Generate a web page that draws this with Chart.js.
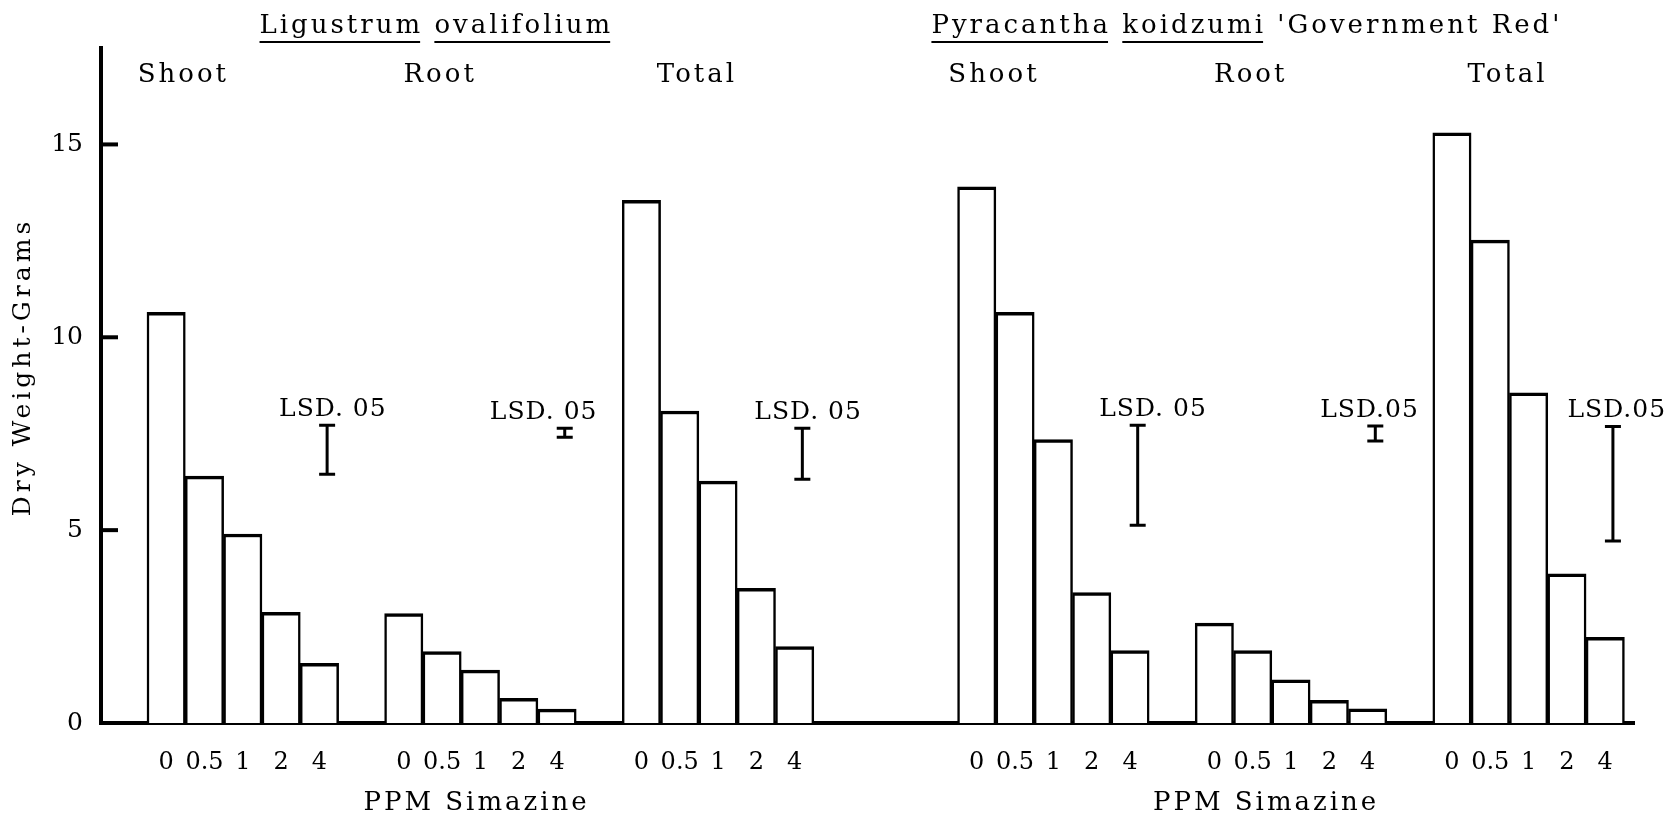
<!DOCTYPE html>
<html>
<head>
<meta charset="utf-8">
<script src="https://cdn.jsdelivr.net/npm/chart.js@4.4.1/dist/chart.umd.min.js"></script>
<style>
  html, body { margin: 0; padding: 0; background: #fff; }
  #wrap { width: 1675px; height: 816px; }
</style>
</head>
<body>
<div id="wrap"><canvas id="plot"></canvas></div>
<script>
const doses = ["0", "0.5", "1", "2", "4"];
const parts = ["Shoot", "Root", "Total"];
const species = [["Ligustrum", "ovalifolium"], ["Pyracantha", "koidzumi", "'Government Red'"]];

// dry weight (grams) per dose
const ligustrumShoot = [10.65, 6.4, 4.9, 2.87, 1.55];
const ligustrumRoot = [2.84, 1.85, 1.37, 0.64, 0.36];
const ligustrumTotal = [13.55, 8.09, 6.27, 3.49, 1.98];
const pyracanthaShoot = [13.9, 10.65, 7.35, 3.38, 1.88];
const pyracanthaRoot = [2.59, 1.88, 1.12, 0.59, 0.37];
const pyracanthaTotal = [15.3, 12.52, 8.56, 3.87, 2.22];

// LSD .05 bar ends
const lsdHigh = [7.72, 7.64, 7.64, 7.72, 7.70, 7.69];
const lsdLow = [6.45, 7.41, 6.32, 5.13, 7.31, 4.72];
const lsdText = ["LSD. 05", "LSD. 05", "LSD. 05", "LSD. 05", "LSD.05", "LSD.05"];

const yTicks = [0, 5, 10, 15];
const yTitle = "Dry Weight-Grams";
const xTitle = "PPM Simazine";

const groups = [ligustrumShoot, ligustrumRoot, ligustrumTotal,
                pyracanthaShoot, pyracanthaRoot, pyracanthaTotal];

// layout in bar-width units
const LEAD = 1.2, GAP = 1.2, PANEL_GAP = 3.75;
function groupStart(g) {
  const p = Math.floor(g / 3), j = g % 3;
  return LEAD + j * (5 + GAP) + p * (15 + 2 * GAP + PANEL_GAP);
}
// the typed LSD labels sit a little off their bars
const lsdNudge = [0.15, -0.55, 0.15, 0.4, -0.15, 0.1];

const barPoints = groups.flatMap((vals, g) =>
  vals.map((v, i) => ({ x: groupStart(g) + i + 0.5, y: v })));

const SERIF = '"DejaVu Serif", "Liberation Serif", serif';

function label(ctx, str, x, y, size, spacing, align) {
  ctx.font = size + "px " + SERIF;
  ctx.letterSpacing = spacing + "px";
  ctx.textAlign = align || "center";
  ctx.textBaseline = "alphabetic";
  ctx.fillText(str, x, y);
}

const decorations = {
  id: "decorations",
  afterDraw(chart) {
    const ctx = chart.ctx;
    const xs = chart.scales.x, ys = chart.scales.y;
    const area = chart.chartArea;
    ctx.save();
    ctx.fillStyle = "#000";
    ctx.strokeStyle = "#000";

    // inward tick marks on the y axis
    ctx.lineWidth = 4;
    yTicks.forEach(v => {
      if (v === 0) return;
      const py = ys.getPixelForValue(v);
      ctx.beginPath();
      ctx.moveTo(area.left, py);
      ctx.lineTo(area.left + 17, py);
      ctx.stroke();
    });

    // LSD bars
    groups.forEach((vals, g) => {
      const px = xs.getPixelForValue(groupStart(g) + 4.7);
      const top = ys.getPixelForValue(lsdHigh[g]);
      const bot = ys.getPixelForValue(lsdLow[g]);
      ctx.lineWidth = 3;
      ctx.beginPath();
      ctx.moveTo(px, top); ctx.lineTo(px, bot);
      ctx.moveTo(px - 8, top); ctx.lineTo(px + 8, top);
      ctx.moveTo(px - 8, bot); ctx.lineTo(px + 8, bot);
      ctx.stroke();
      const lx = xs.getPixelForValue(groupStart(g) + 4.7 + lsdNudge[g]);
      label(ctx, lsdText[g], lx, top - 9, 25, 1);
    });

    // part labels
    groups.forEach((vals, g) => {
      const j = g % 3;
      const px = xs.getPixelForValue(groupStart(g) + 0.95 + 0.5 * j);
      label(ctx, parts[j], px, 82, 26, 3);
    });

    // species titles, genus and species underlined
    species.forEach((words, p) => {
      const mid = (groupStart(p * 3) + groupStart(p * 3 + 2) + 5) / 2;
      const cx = xs.getPixelForValue(mid - 1.15);
      ctx.font = "26px " + SERIF;
      ctx.letterSpacing = "3px";
      const full = words.join(" ");
      let x = cx - ctx.measureText(full).width / 2;
      const space = ctx.measureText(" ").width;
      words.forEach((w, k) => {
        const ww = ctx.measureText(w).width;
        label(ctx, w, x, 33, 26, 3, "left");
        if (k < 2) ctx.fillRect(x, 41, ww - 3, 2);
        x += ww + space;
      });
      // x axis title under each panel
      const tx = xs.getPixelForValue(groupStart(p * 3 + 1) + 2.4 - 0.55 * p);
      label(ctx, xTitle, tx, 810, 26, 3);
    });

    // y axis title
    ctx.save();
    ctx.translate(23, 367);
    ctx.rotate(-Math.PI / 2);
    ctx.font = "25px " + SERIF;
    ctx.letterSpacing = "4px";
    ctx.textAlign = "center";
    ctx.textBaseline = "middle";
    ctx.fillText(yTitle, 0, 0);
    ctx.restore();

    ctx.restore();
  }
};

new Chart(document.getElementById("plot"), {
  type: "bar",
  data: {
    datasets: [{
      data: barPoints,
      backgroundColor: "#fff",
      borderColor: "#000",
      borderWidth: { top: 3.5, left: 2.5, right: 2.5, bottom: 0 },
      borderSkipped: "bottom",
      categoryPercentage: 1,
      barPercentage: 1
    }]
  },
  options: {
    responsive: true,
    maintainAspectRatio: false,
    animation: false,
    events: [],
    layout: { padding: { left: 0, top: 48, right: 41, bottom: 0 } },
    plugins: { legend: { display: false }, tooltip: { enabled: false } },
    scales: {
      x: {
        type: "linear",
        min: 0,
        max: 40,
        offset: false,
        grid: { display: false, drawTicks: false, offset: false },
        border: { display: true, color: "#000", width: 4 },
        afterBuildTicks: s => { s.ticks = barPoints.map(p => ({ value: p.x })); },
        afterFit: s => { s.height = 93; },
        ticks: {
          autoSkip: false,
          maxRotation: 0,
          padding: 25,
          color: "#000",
          font: { family: SERIF, size: 24 },
          callback: (v, i) => doses[i % doses.length]
        }
      },
      y: {
        min: 0,
        max: 17.5,
        grid: { display: false, drawTicks: false },
        border: { display: true, color: "#000", width: 4 },
        afterBuildTicks: s => { s.ticks = yTicks.map(v => ({ value: v })); },
        afterFit: s => { s.width = 101; },
        ticks: {
          padding: 18,
          color: "#000",
          font: { family: SERIF, size: 25 }
        }
      }
    }
  },
  plugins: [decorations]
});
</script>
</body>
</html>
